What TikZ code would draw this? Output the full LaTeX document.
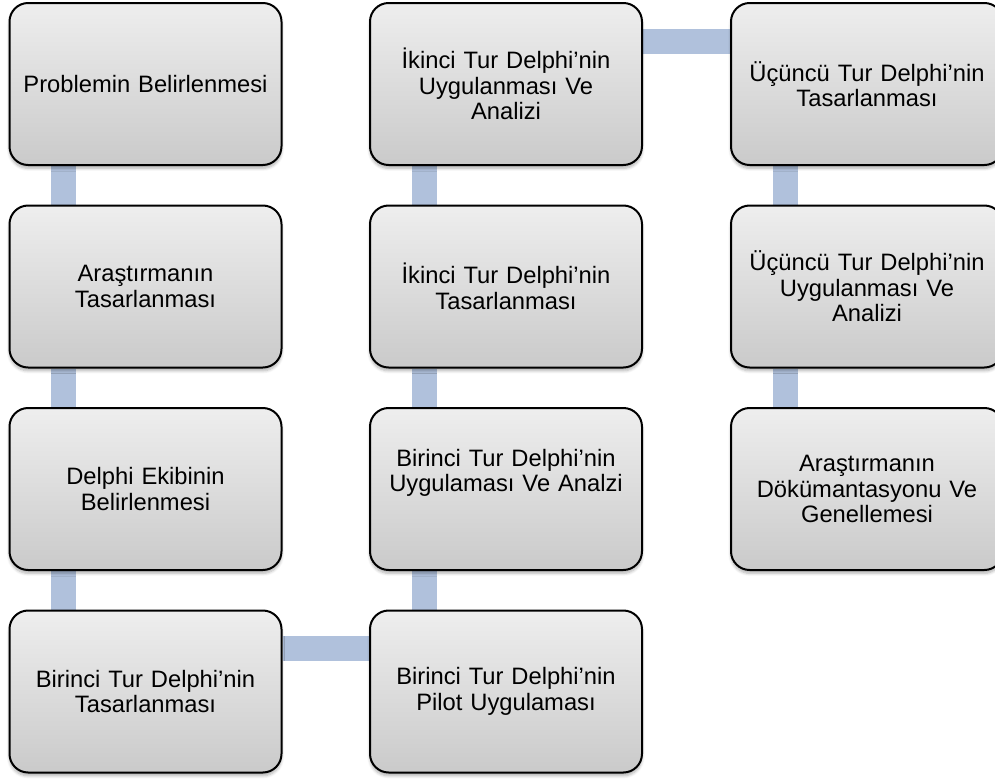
\documentclass[tikz,border=0pt]{standalone}
\usepackage{fontspec}
\setmainfont{Liberation Sans}
\usetikzlibrary{shadows.blur}
\pgfdeclarelayer{bg}
\pgfsetlayers{bg,main}
\definecolor{connblue}{RGB}{176,193,220}
\definecolor{boxtop}{RGB}{238,238,238}
\definecolor{boxbot}{RGB}{202,202,202}
\tikzset{
  stepbox/.style={draw=black, line width=1.5pt, rounded corners=14pt,
    top color=boxtop, bottom color=boxbot,
    minimum width=204pt, minimum height=121.5pt, inner sep=4pt,
    align=center, text width=196pt,
    font=\fontsize{17.8pt}{19.2pt}\selectfont,
    blur shadow={shadow xshift=0pt, shadow yshift=-2.5pt, shadow blur steps=6, shadow opacity=30}},
  conn/.style={draw=connblue, line width=18.75pt, line cap=butt}
}
\begin{document}
\begin{tikzpicture}[x=0.75pt, y=-0.75pt]
\clip (0,0) rectangle (995,778);
% column 1
\node[stepbox] (a1) at (145.5,84) {Problemin Belirlenmesi};
\node[stepbox] (a2) at (145.5,286.5) {Araştırmanın\\Tasarlanması};
\node[stepbox] (a3) at (145.5,489) {Delphi Ekibinin\\Belirlenmesi};
\node[stepbox] (a4) at (145.5,691.5) {Birinci Tur Delphi’nin\\Tasarlanması};
% column 2
\node[stepbox] (b4) at (506,691.5) {Birinci Tur Delphi’nin\\Pilot Uygulaması};
\node[stepbox] (b3) at (506,489) {Birinci Tur Delphi’nin\\Uygulaması Ve Analzi\\[9pt]~};
\node[stepbox] (b2) at (506,286.5) {İkinci Tur Delphi’nin\\Tasarlanması};
\node[stepbox] (b1) at (506,84) {İkinci Tur Delphi’nin\\Uygulanması Ve\\Analizi};
% column 3
\node[stepbox] (c1) at (867,84) {Üçüncü Tur Delphi’nin\\Tasarlanması};
\node[stepbox] (c2) at (867,286.5) {Üçüncü Tur Delphi’nin\\Uygulanması Ve\\Analizi};
\node[stepbox] (c3) at (867,489) {Araştırmanın\\Dökümantasyonu Ve\\Genellemesi};
% connectors
\begin{pgfonlayer}{bg}
\draw[conn] ([xshift=41.25pt]a1.south west) -- ([xshift=41.25pt]a2.north west);
\draw[conn] ([xshift=41.25pt]a2.south west) -- ([xshift=41.25pt]a3.north west);
\draw[conn] ([xshift=41.25pt]a3.south west) -- ([xshift=41.25pt]a4.north west);
\draw[conn] ([yshift=-29.25pt]a4.north east) -- ([yshift=-29.25pt]b4.north west);
\draw[conn] ([xshift=41.25pt]b4.north west) -- ([xshift=41.25pt]b3.south west);
\draw[conn] ([xshift=41.25pt]b3.north west) -- ([xshift=41.25pt]b2.south west);
\draw[conn] ([xshift=41.25pt]b2.north west) -- ([xshift=41.25pt]b1.south west);
\draw[conn] ([yshift=-29.25pt]b1.north east) -- ([yshift=-29.25pt]c1.north west);
\draw[conn] ([xshift=41.25pt]c1.south west) -- ([xshift=41.25pt]c2.north west);
\draw[conn] ([xshift=41.25pt]c2.south west) -- ([xshift=41.25pt]c3.north west);
\end{pgfonlayer}
\end{tikzpicture}
\end{document}
